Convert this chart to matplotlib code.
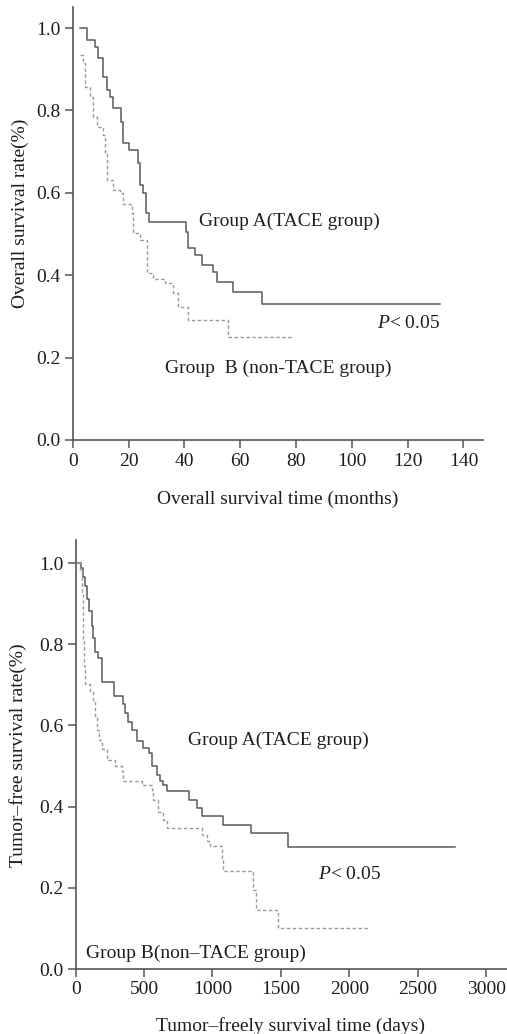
import matplotlib
matplotlib.use("Agg")
import matplotlib.pyplot as plt

plt.rcParams['font.family'] = ['Liberation Serif', 'DejaVu Serif']
plt.rcParams['mathtext.fontset'] = 'custom'
plt.rcParams['mathtext.rm'] = 'Liberation Serif'
plt.rcParams['mathtext.it'] = 'Liberation Serif:italic'

# ---- Data: overall survival (months) ----
os_a_time = [2.6, 5.0, 8.0, 9.2, 11.0, 12.2, 13.4, 14.3, 17.2, 18.1, 20.3, 23.3, 24.1, 25.1,
             26.3, 27.5, 40.6, 41.4, 43.8, 46.5, 50.2, 51.6, 57.6, 67.7, 131.6]
os_a_surv = [1.0, 0.971, 0.955, 0.926, 0.882, 0.850, 0.833, 0.805, 0.773, 0.720, 0.704, 0.672,
             0.619, 0.599, 0.550, 0.530, 0.506, 0.465, 0.449, 0.425, 0.408, 0.384, 0.360, 0.330, 0.330]
os_b_time = [2.6, 3.8, 4.4, 6.2, 7.4, 8.6, 11.0, 11.6, 12.2, 14.6, 17.0, 18.1, 21.1, 21.7, 24.1,
             26.5, 26.7, 28.9, 33.1, 36.1, 37.8, 41.4, 55.6, 78.5]
os_b_surv = [0.934, 0.914, 0.858, 0.833, 0.785, 0.760, 0.740, 0.696, 0.631, 0.607, 0.599, 0.574,
             0.550, 0.502, 0.485, 0.461, 0.405, 0.392, 0.380, 0.356, 0.324, 0.291, 0.250, 0.250]

# ---- Data: tumor-free survival (days) ----
tf_a_time = [19, 36, 56, 68, 85, 100, 117, 129, 141, 165, 190, 280, 343, 360, 385, 409, 451, 494,
             538, 555, 592, 616, 641, 665, 831, 885, 921, 1079, 1280, 1554, 2773]
tf_a_surv = [1.0, 0.988, 0.967, 0.943, 0.911, 0.882, 0.845, 0.816, 0.780, 0.766, 0.706, 0.673,
             0.654, 0.630, 0.608, 0.588, 0.561, 0.545, 0.533, 0.500, 0.479, 0.462, 0.454, 0.438,
             0.417, 0.397, 0.378, 0.356, 0.334, 0.300, 0.300]
tf_b_time = [19, 31, 44, 51, 56, 61, 68, 105, 124, 141, 158, 173, 190, 226, 287, 336, 348, 482,
             555, 567, 604, 640, 670, 925, 960, 982, 1067, 1079, 1298, 1318, 1481, 2142]
tf_b_surv = [1.0, 0.977, 0.928, 0.878, 0.812, 0.746, 0.701, 0.685, 0.664, 0.623, 0.590, 0.565,
             0.541, 0.516, 0.500, 0.487, 0.462, 0.454, 0.442, 0.417, 0.388, 0.368, 0.347, 0.330,
             0.315, 0.302, 0.273, 0.242, 0.195, 0.146, 0.100, 0.100]

y_ticks = [0.0, 0.2, 0.4, 0.6, 0.8, 1.0]
os_x_ticks = [0, 20, 40, 60, 80, 100, 120, 140]
tf_x_ticks = [0, 500, 1000, 1500, 2000, 2500, 3000]

W, H = 507, 1034
fig = plt.figure(figsize=(W / 100, H / 100), dpi=100)
fig.patch.set_facecolor('white')

FS = 14
TXT = '#1e1e1e'
SPINE = '#555555'
COL_A = '#5a5a5a'
COL_B = '#9a9a9a'


def style(ax):
    for s in ['top', 'right']:
        ax.spines[s].set_visible(False)
    for s in ['left', 'bottom']:
        ax.spines[s].set_color(SPINE)
        ax.spines[s].set_linewidth(1.2)
    ax.tick_params(direction='out', length=6, width=1.1, color=SPINE,
                   labelsize=FS, labelcolor=TXT, pad=3)
    ax.set_yticks(y_ticks)
    ax.set_yticklabels([f'{v:.1f}' for v in y_ticks])


# ---- Top panel ----
ax1 = fig.add_axes([72.7 / W, (H - 440) / H, (483.3 - 72.7) / W, 433 / H])
ax1.step(os_a_time, os_a_surv, where='post', color=COL_A, lw=1.1)
ax1.step(os_b_time, os_b_surv, where='post', color=COL_B, lw=1.0, dashes=(2.5, 1.8))
ax1.set_xlim(0, 147.1)
ax1.set_ylim(0, 1.051)
style(ax1)
ax1.set_xticks(os_x_ticks)
ax1.set_xlabel('Overall survival time (months)', fontsize=FS, color=TXT)
ax1.set_ylabel('Overall survival rate(%)', fontsize=FS, color=TXT)
ax1.xaxis.set_label_coords(0.5, -0.117)
ax1.yaxis.set_label_coords(-0.107, 0.523)
ax1.text(45.4, 0.530, 'Group A(TACE group)', fontsize=FS, color=TXT, va='center', ha='left')
ax1.text(109, 0.282, r'$\mathit{P}$< 0.05', fontsize=FS, color=TXT, va='center', ha='left')
ax1.text(114.3, 0.175, 'Group  B (non-TACE group)', fontsize=FS, color=TXT, va='center', ha='right')

# ---- Bottom panel ----
ax2 = fig.add_axes([75.7 / W, (H - 969) / H, (507 - 75.7) / W, (969 - 540) / H])
ax2.step(tf_a_time, tf_a_surv, where='post', color=COL_A, lw=1.1)
ax2.step(tf_b_time, tf_b_surv, where='post', color=COL_B, lw=1.0, dashes=(2.5, 1.8))
ax2.set_xlim(0, 3153)
ax2.set_ylim(0, 1.057)
style(ax2)
ax2.set_xticks(tf_x_ticks)
ax2.set_xlabel('Tumor\u2013freely survival time (days)', fontsize=FS, color=TXT)
ax2.set_ylabel('Tumor\u2013free survival rate(%)', fontsize=FS, color=TXT)
ax2.xaxis.set_label_coords(0.497, -0.113)
ax2.yaxis.set_label_coords(-0.114, 0.499)
ax2.text(819, 0.564, 'Group A(TACE group)', fontsize=FS, color=TXT, va='center', ha='left')
ax2.text(1771, 0.232, r'$\mathit{P}$< 0.05', fontsize=FS, color=TXT, va='center', ha='left')
ax2.text(75, 0.039, 'Group B(non\u2013TACE group)', fontsize=FS, color=TXT, va='center', ha='left')

fig.savefig('out.png', dpi=100, facecolor='white')
